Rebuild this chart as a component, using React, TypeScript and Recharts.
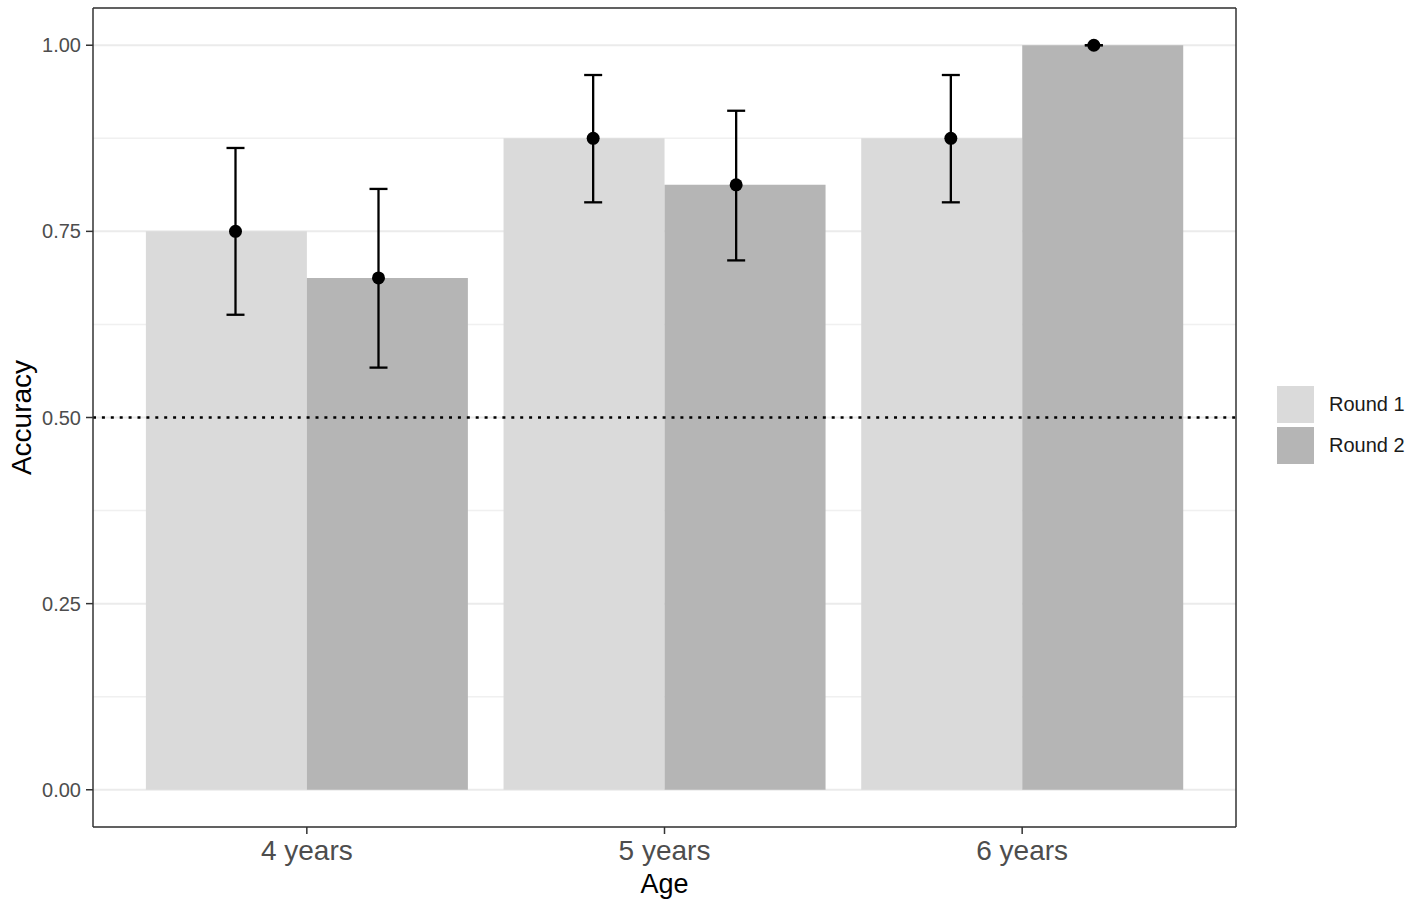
import {
  Bar,
  BarChart,
  CartesianGrid,
  ErrorBar,
  ReferenceLine,
  XAxis,
  YAxis,
} from "recharts";

const categories = ["4 years", "5 years", "6 years"];
const round1 = [0.75, 0.875, 0.875];
const round1Low = [0.638, 0.789, 0.789];
const round1High = [0.862, 0.96, 0.96];
const round2 = [0.6875, 0.8125, 1.0];
const round2Low = [0.567, 0.711, 1.0];
const round2High = [0.807, 0.912, 1.0];
const yTicks = [0, 0.25, 0.5, 0.75, 1];
const yMinorTicks = [0.125, 0.375, 0.625, 0.875];
const chance = 0.5;

const series = [
  { key: "r1", err: "e1", name: "Round 1", color: "#dadada" },
  { key: "r2", err: "e2", name: "Round 2", color: "#b5b5b5" },
];

const data = categories.map((age, i) => ({
  age,
  r1: round1[i],
  r2: round2[i],
  e1: [round1[i] - round1Low[i], round1High[i] - round1[i]],
  e2: [round2[i] - round2Low[i], round2High[i] - round2[i]],
}));

const FONT = "'Liberation Sans', Arial, Helvetica, sans-serif";
const BORDER = { stroke: "#333", strokeWidth: 1.5 };
const Y_DOMAIN = [-0.05, 1.05];
const X_PAD = { left: 35, right: 35 };

// dot at the mean, drawn on the dodged "pointrange" layer
function MeanDot(props: any) {
  const { x, y, width } = props;
  if (x == null || y == null) return null;
  return <circle cx={x + width / 2} cy={y} r={6.5} fill="#000" />;
}

function YTitle(props: any) {
  const vb = props.viewBox;
  const cx = vb.x + 31;
  const cy = vb.y + vb.height / 2;
  return (
    <text
      x={cx}
      y={cy}
      transform={`rotate(-90 ${cx} ${cy})`}
      textAnchor="middle"
      fontSize={28}
      fill="#000"
    >
      Accuracy
    </text>
  );
}

function XTitle(props: any) {
  const vb = props.viewBox;
  return (
    <text
      x={vb.x + vb.width / 2}
      y={vb.y + 66}
      textAnchor="middle"
      fontSize={27}
      fill="#000"
    >
      Age
    </text>
  );
}

export default function App() {
  return (
    <div
      style={{
        position: "absolute",
        left: 0,
        top: 0,
        width: 1414,
        height: 904,
        background: "#fff",
        fontFamily: FONT,
      }}
    >
      <BarChart
        width={1414}
        height={904}
        data={data}
        margin={{ top: 7, right: 177, bottom: 0, left: 0 }}
        barCategoryGap="5%"
        barGap={0}
      >
        <CartesianGrid
          vertical={false}
          horizontalValues={yMinorTicks}
          stroke="#f0f0f0"
          strokeWidth={1.5}
        />
        <CartesianGrid vertical={false} stroke="#ebebeb" strokeWidth={2} />
        <XAxis
          dataKey="age"
          height={77}
          padding={X_PAD}
          axisLine={BORDER}
          tickLine={BORDER}
          tickSize={7}
          tickMargin={6}
          tick={{ fill: "#4d4d4d", fontSize: 28 }}
          label={<XTitle />}
        />
        {/* top axis: carries the dodged mean/error layer and draws the panel's top edge */}
        <XAxis
          xAxisId="top"
          orientation="top"
          dataKey="age"
          height={1}
          padding={X_PAD}
          tick={false}
          tickLine={false}
          axisLine={BORDER}
        />
        <YAxis
          width={93}
          domain={Y_DOMAIN}
          ticks={yTicks}
          tickFormatter={(v: number) => v.toFixed(2)}
          axisLine={BORDER}
          tickLine={BORDER}
          tickSize={7}
          tickMargin={5}
          tick={{ fill: "#4d4d4d", fontSize: 20 }}
          label={<YTitle />}
        />
        <YAxis
          yAxisId="right"
          orientation="right"
          width={1}
          domain={Y_DOMAIN}
          ticks={yTicks}
          tick={false}
          tickLine={false}
          axisLine={BORDER}
        />
        {series.map((s) => (
          <Bar
            key={s.key}
            dataKey={s.key}
            name={s.name}
            fill={s.color}
            isAnimationActive={false}
          />
        ))}
        {series.map((s) => (
          <Bar
            key={s.err}
            xAxisId="top"
            yAxisId="right"
            dataKey={s.key}
            barSize={143}
            fill="none"
            shape={<MeanDot />}
            isAnimationActive={false}
            legendType="none"
          >
            <ErrorBar
              dataKey={s.err}
              width={9}
              stroke="#000"
              strokeWidth={2.3}
              direction="y"
              isAnimationActive={false}
            />
          </Bar>
        ))}
        <ReferenceLine
          y={chance}
          stroke="#000"
          strokeWidth={2.5}
          strokeDasharray="3 5.9"
        />
      </BarChart>
      <div style={{ position: "absolute", left: 1277, top: 386 }}>
        {series.map((s) => (
          <div
            key={s.key}
            style={{ display: "flex", alignItems: "center", height: 37, marginBottom: 4 }}
          >
            <div style={{ width: 37, height: 37, background: s.color }} />
            <span style={{ marginLeft: 15, fontSize: 20, color: "#1a1a1a" }}>
              {s.name}
            </span>
          </div>
        ))}
      </div>
    </div>
  );
}
